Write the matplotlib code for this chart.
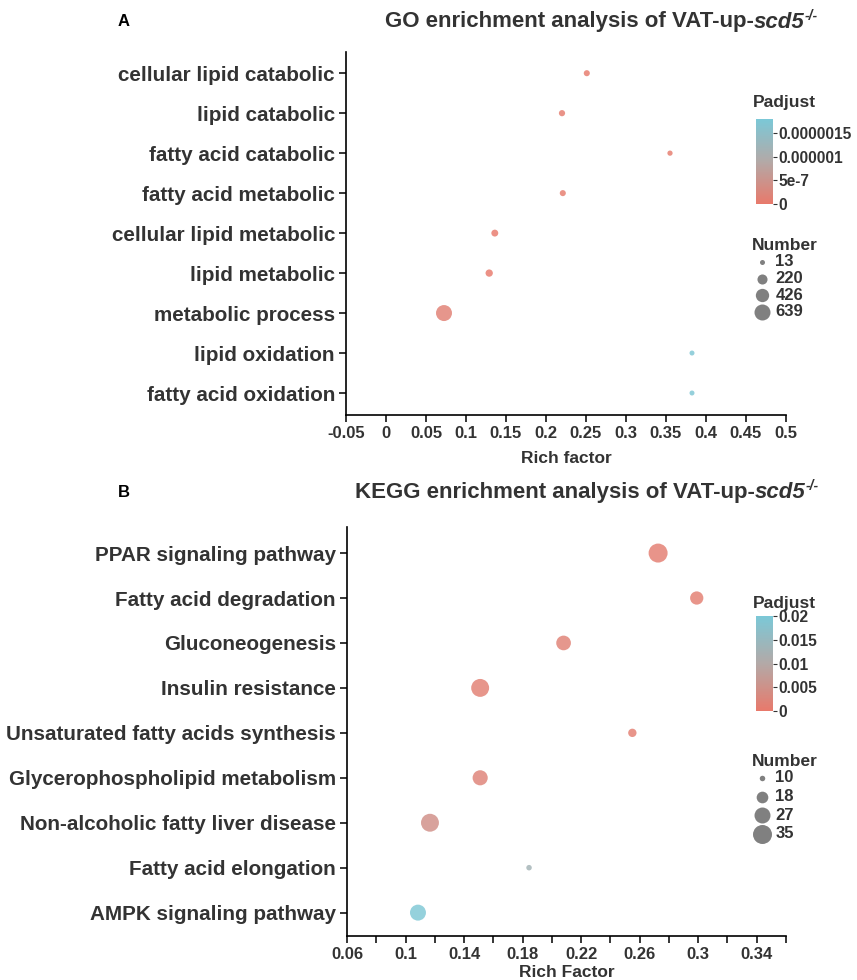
import numpy as np
import matplotlib
matplotlib.use("Agg")
import matplotlib.pyplot as plt
from matplotlib.colors import LinearSegmentedColormap, Normalize

plt.rcParams['font.family'] = ['Liberation Sans', 'DejaVu Sans']
plt.rcParams['font.weight'] = 'bold'

# ---------------- data ----------------
go_terms = ["cellular lipid catabolic", "lipid catabolic", "fatty acid catabolic",
            "fatty acid metabolic", "cellular lipid metabolic", "lipid metabolic",
            "metabolic process", "lipid oxidation", "fatty acid oxidation"]
go_rich = [0.251, 0.220, 0.355, 0.221, 0.136, 0.129, 0.0725, 0.3825, 0.3825]
go_number = [45, 50, 20, 45, 75, 90, 639, 13, 13]
go_padj = [2e-8, 5e-8, 3e-8, 4e-8, 1e-8, 1e-8, 1.2e-7, 1.75e-6, 1.75e-6]
go_xticks = [-0.05, 0, 0.05, 0.1, 0.15, 0.2, 0.25, 0.3, 0.35, 0.4, 0.45, 0.5]
go_xticklabels = ["-0.05", "0", "0.05", "0.1", "0.15", "0.2", "0.25", "0.3",
                  "0.35", "0.4", "0.45", "0.5"]
go_cbar_ticks = [0, 5e-7, 1e-6, 1.5e-6]
go_cbar_labels = ["0", "5e-7", "0.000001", "0.0000015"]
go_size_breaks = [13, 220, 426, 639]

kegg_terms = ["PPAR signaling pathway", "Fatty acid degradation", "Gluconeogenesis",
              "Insulin resistance", "Unsaturated fatty acids synthesis",
              "Glycerophospholipid metabolism", "Non-alcoholic fatty liver disease",
              "Fatty acid elongation", "AMPK signaling pathway"]
kegg_rich = [0.2726, 0.299, 0.208, 0.151, 0.255, 0.151, 0.1167, 0.1844, 0.1085]
kegg_number = [35, 21, 24, 32, 13, 25, 32, 10, 27]
kegg_padj = [0.0008, 0.0010, 0.0015, 0.0012, 0.0010, 0.0018, 0.0045, 0.013, 0.0195]
kegg_xticks = [0.06, 0.10, 0.14, 0.18, 0.22, 0.26, 0.30, 0.34]
kegg_xticklabels = ["0.06", "0.1", "0.14", "0.18", "0.22", "0.26", "0.3", "0.34"]
kegg_cbar_ticks = [0, 0.005, 0.01, 0.015, 0.02]
kegg_cbar_labels = ["0", "0.005", "0.01", "0.015", "0.02"]
kegg_size_breaks = [10, 18, 27, 35]

# ---------------- style ----------------
cmap = LinearSegmentedColormap.from_list("padj", ["#E8796B", "#B3A9A7", "#7BC8D7"])
TXT = "#333333"
W, H = 857, 980
fig = plt.figure(figsize=(W / 100, H / 100), dpi=100)
renderer = fig.canvas.get_renderer()


def fx(px):
    return px / W


def fy(py):
    return 1 - py / H


def size_fn(vmin, vmax, dmin, dmax):
    def f(v):
        v = np.asarray(v, dtype=float)
        d = np.sqrt(dmin ** 2 + (dmax ** 2 - dmin ** 2) * (v - vmin) / (vmax - vmin))
        return (d * 0.72) ** 2
    return f


def draw_title(cx, cy, parts):
    # parts: (text, style, fontsize, dy_px)
    objs = []
    widths = []
    for txt, style, size, dy in parts:
        t = fig.text(0, fy(cy + dy), txt, fontsize=size, fontweight='bold',
                     fontstyle=style, color=TXT, ha='left', va='center')
        widths.append(t.get_window_extent(renderer).width)
        objs.append(t)
    total = sum(widths)
    x = cx - total / 2
    for t, w in zip(objs, widths):
        t.set_x(fx(x))
        x += w


def panel(rect, terms, rich, number, padj, xlim, xticks, xticklabels, minor,
          vmax, cticks, clabels, breaks, sfun, ylim, cbar_rect, padj_title_y,
          legend_anchor, xlabel, labelpad, title, title_xy, letter_xy, lspacing):
    ax = fig.add_axes(rect)
    n = len(terms)
    ypos = np.arange(n, 0, -1)
    norm = Normalize(0, vmax)
    ax.scatter(rich, ypos, s=sfun(number), c=padj, cmap=cmap, norm=norm,
               alpha=0.82, linewidths=0, zorder=3)
    ax.set_xlim(*xlim)
    ax.set_ylim(*ylim)
    ax.set_yticks(ypos)
    ax.set_yticklabels(terms, fontsize=14.9, fontweight='bold', color=TXT)
    ax.set_xticks(xticks)
    ax.set_xticklabels(xticklabels, fontsize=12, fontweight='bold', color=TXT)
    if minor is not None:
        ax.set_xticks(minor, minor=True)
    for s in ['top', 'right']:
        ax.spines[s].set_visible(False)
    for s in ['left', 'bottom']:
        ax.spines[s].set_linewidth(1.2)
        ax.spines[s].set_color('black')
    ax.tick_params(axis='both', which='both', length=5, width=1.1, color='black', pad=3)
    ax.set_xlabel(xlabel, fontsize=12.5, fontweight='bold', color=TXT, labelpad=labelpad)

    # colorbar
    cax = fig.add_axes(cbar_rect)
    sm = plt.cm.ScalarMappable(norm=norm, cmap=cmap)
    cb = fig.colorbar(sm, cax=cax)
    cb.outline.set_visible(False)
    cb.set_ticks(cticks)
    cb.set_ticklabels(clabels)
    cax.tick_params(length=3, width=0.8, color=TXT, pad=1, labelsize=11.2)
    for t in cax.get_yticklabels():
        t.set_fontweight('bold')
        t.set_color(TXT)
    fig.text(fx(753), fy(padj_title_y), "Padjust", fontsize=12.5, fontweight='bold',
             color=TXT, ha='left', va='center')

    # size legend
    handles = [ax.scatter([], [], s=sfun(b), color='#808080', linewidths=0) for b in breaks]
    leg = fig.legend(handles, [str(b) for b in breaks], title="Number",
                     loc='upper left', bbox_to_anchor=legend_anchor, frameon=False,
                     prop={'size': 12, 'weight': 'bold'},
                     title_fontproperties={'size': 12.5, 'weight': 'bold'},
                     handletextpad=0.2, labelspacing=lspacing, borderpad=0,
                     handlelength=1.2, borderaxespad=0)
    leg._legend_box.align = "left"
    leg._legend_box.sep = 1
    leg.get_title().set_color(TXT)
    for t in leg.get_texts():
        t.set_color(TXT)

    draw_title(title_xy[0], title_xy[1], title)
    fig.text(fx(letter_xy[0]), fy(letter_xy[1]), letter_xy[2], fontsize=12,
             fontweight='bold', color='black', ha='center', va='center')
    return ax


go_title = [("GO enrichment analysis of VAT-up-", 'normal', 16, 0),
            ("scd5", 'italic', 16, 0),
            ("-/-", 'italic', 10, -6)]
kegg_title = [("KEGG enrichment analysis of VAT-up-", 'normal', 16, 0),
              ("scd5", 'italic', 16, 0),
              ("-/-", 'italic', 10, -6)]

panel([fx(346), fy(415), fx(786) - fx(346), fy(52) - fy(415)],
      go_terms, go_rich, go_number, go_padj, (-0.05, 0.5), go_xticks, go_xticklabels,
      None, 1.8e-6, go_cbar_ticks, go_cbar_labels, go_size_breaks,
      size_fn(13, 639, 5, 16), (0.45, 9.53),
      [fx(756), fy(204), fx(773) - fx(756), fy(119) - fy(204)], 103,
      (fx(752), fy(238)), "Rich factor", 7,
      go_title, (601, 22), (124, 22, "A"), 0.1)

panel([fx(347), fy(936), fx(786) - fx(347), fy(527) - fy(936)],
      kegg_terms, kegg_rich, kegg_number, kegg_padj, (0.06, 0.36), kegg_xticks,
      kegg_xticklabels, [0.08, 0.12, 0.16, 0.20, 0.24, 0.28, 0.32, 0.36], 0.02,
      kegg_cbar_ticks, kegg_cbar_labels, kegg_size_breaks,
      size_fn(10, 35, 5.5, 19), (0.48, 9.58),
      [fx(756), fy(711), fx(773) - fx(756), fy(616) - fy(711)], 603,
      (fx(752), fy(754)), "Rich Factor", 2,
      kegg_title, (587, 492), (124, 492, "B"), 0.22)

fig.savefig("out.png", dpi=100)
